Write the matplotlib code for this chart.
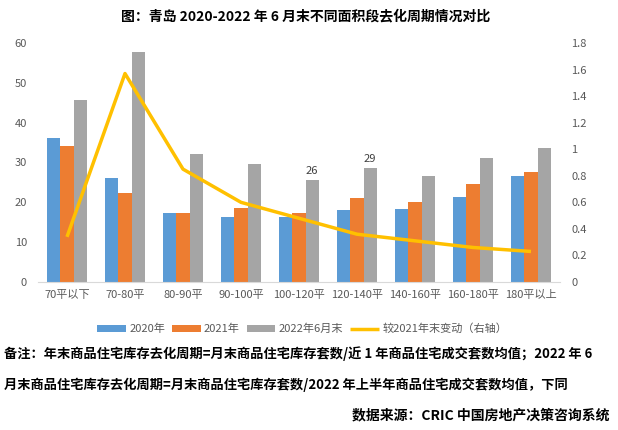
import numpy as np
import matplotlib
matplotlib.use('Agg')
import matplotlib.pyplot as plt
from matplotlib.ticker import FuncFormatter

plt.rcParams['font.family'] = ['Noto Sans CJK SC', 'DejaVu Sans']

categories = ['70平以下', '70-80平', '80-90平', '90-100平', '100-120平', '120-140平', '140-160平', '160-180平', '180平以上']
y2020 = [36.2, 26.2, 17.2, 16.3, 16.2, 18.2, 18.4, 21.4, 26.5]
y2021 = [34.2, 22.4, 17.4, 18.7, 17.4, 21.2, 20.1, 24.7, 27.5]
y2022 = [45.7, 57.8, 32.2, 29.6, 25.6, 28.7, 26.5, 31.2, 33.7]
change = [0.34, 1.57, 0.85, 0.60, 0.48, 0.36, 0.31, 0.26, 0.23]
gray_labels = {4: '26', 5: '29'}

blue = '#5B9BD5'
orange = '#ED7D31'
gray = '#A5A5A5'
yellow = '#FFC000'
tick_col = '#595959'

fig = plt.figure(figsize=(6.18, 4.30), dpi=100)
ax1 = fig.add_axes([38/618, 1-282/430, (560-38)/618, (282-43)/430])
ax2 = ax1.twinx()

x = np.arange(len(categories))
w = 0.225
b1 = ax1.bar(x - w, y2020, w, color=blue, label='2020年')
b2 = ax1.bar(x, y2021, w, color=orange, label='2021年')
b3 = ax1.bar(x + w, y2022, w, color=gray, label='2022年6月末')
for i, t in gray_labels.items():
    ax1.text(x[i] + w, y2022[i] + 1.0, t, ha='center', va='bottom', fontsize=8, color='#404040')

ln, = ax2.plot(x, change, color=yellow, lw=2.5, label='较2021年末变动（右轴）', solid_capstyle='butt')

ax1.set_xlim(-0.5, len(categories) - 0.5)
ax1.set_ylim(0, 60)
ax1.set_yticks(range(0, 61, 10))
ax2.set_ylim(0, 1.8)
ax2.set_yticks(np.arange(0, 1.81, 0.2))
ax2.yaxis.set_major_formatter(FuncFormatter(lambda v, p: '%g' % round(v, 1)))

ax1.set_xticks(x)
ax1.set_xticklabels(categories)
for ax in (ax1, ax2):
    for s in ax.spines.values():
        s.set_visible(False)
    ax.tick_params(length=0, colors=tick_col, labelsize=8)
ax1.spines['bottom'].set_visible(True)
ax1.spines['bottom'].set_color('#D9D9D9')
ax1.tick_params(axis='x', pad=6)
ax1.tick_params(axis='y', pad=8)
ax2.tick_params(axis='y', pad=8)

fig.text(306/618, 0.963, '图：青岛 2020-2022 年 6 月末不同面积段去化周期情况对比', ha='center', va='center',
         fontsize=10, fontweight='bold')

fig.legend([b1, b2, b3, ln], [b1.get_label(), b2.get_label(), b3.get_label(), ln.get_label()],
           loc='center', bbox_to_anchor=(302/618, 1-329/430), ncol=4, frameon=False, fontsize=8,
           handlelength=2.6, handleheight=0.6, columnspacing=0.6, handletextpad=0.3,
           labelcolor=tick_col)

fig.text(0.006, 1-354/430, '备注：年末商品住宅库存去化周期=月末商品住宅库存套数/近 1 年商品住宅成交套数均值；2022 年 6',
         ha='left', va='center', fontsize=9.5, fontweight='bold')
fig.text(0.006, 1-385/430, '月末商品住宅库存去化周期=月末商品住宅库存套数/2022 年上半年商品住宅成交套数均值，下同',
         ha='left', va='center', fontsize=9.5, fontweight='bold')
fig.text(609/618, 1-415/430, '数据来源：CRIC 中国房地产决策咨询系统', ha='right', va='center',
         fontsize=10, fontweight='bold')

fig.savefig('out.png', dpi=100)
